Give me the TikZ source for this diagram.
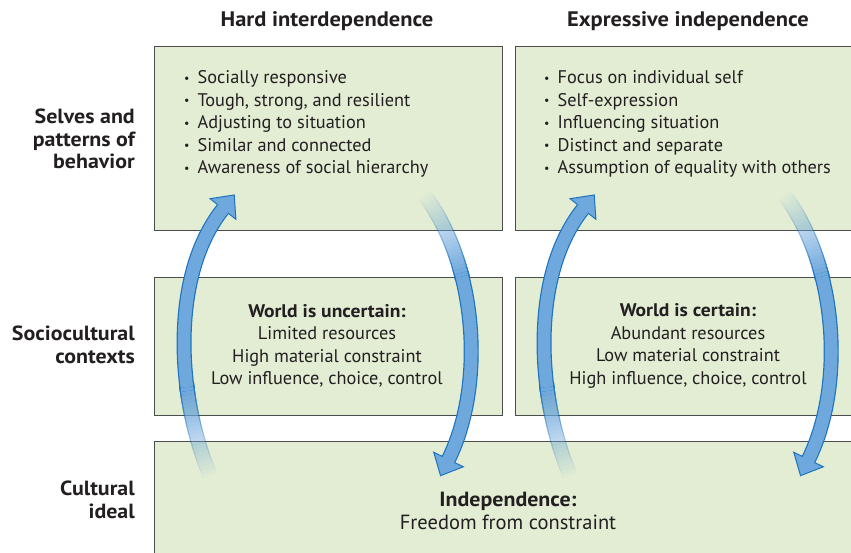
\documentclass[tikz,border=0pt]{standalone}
\usepackage{fontspec}
\setmainfont{PT Sans}[BoldFeatures={FakeStretch=1.07}]
\usetikzlibrary{calc}
\definecolor{boxfill}{RGB}{226,237,212}
\definecolor{boxedge}{RGB}{77,77,77}
\definecolor{txt}{RGB}{35,31,32}
\definecolor{arrfill}{RGB}{111,168,220}
\definecolor{arredge}{RGB}{30,115,190}
\tikzset{
  panel/.style={draw=boxedge, fill=boxfill, line width=1.4pt, inner sep=0pt, anchor=north west},
  body/.style={text=txt, font=\fontsize{18.3}{22.5}\selectfont, inner sep=0pt},
  bigbody/.style={text=txt, font=\fontsize{20.5}{22.5}\selectfont, inner sep=0pt},
  colhead/.style={text=txt, font=\bfseries\fontsize{21}{22.5}\selectfont, inner sep=0pt},
  rowlabel/.style={text=txt, font=\bfseries\fontsize{20.5}{22.5}\selectfont, align=right, inner sep=0pt, anchor=east},
}
\newcommand\bul{{\fontsize{12}{12}\selectfont\raisebox{1.3pt}{•}}\hspace{8pt}}
\newcommand\bzx[4]{(1-\t)^3*#1+3*(1-\t)^2*\t*#2+3*(1-\t)*\t^2*#3+\t^3*#4}
\newcommand\cyclearrow[8]{%
  \foreach \k in {1,...,24}{%
    \pgfmathsetmacro\ta{(\k-1)*0.33/24}%
    \pgfmathsetmacro\al{1/(25-\k)}%
    \begin{scope}[transparency group, opacity=\al]
      \draw[arredge, line width=15pt] plot[domain=\ta:0.34, samples=12, variable=\t] ({\bzx{#1}{#3}{#5}{#7}},{\bzx{#2}{#4}{#6}{#8}});
      \draw[arrfill, line width=12.6pt] plot[domain=\ta:0.34, samples=12, variable=\t] ({\bzx{#1}{#3}{#5}{#7}},{\bzx{#2}{#4}{#6}{#8}});
    \end{scope}
  }
  \draw[arredge, line width=15pt] plot[domain=0.33:1, samples=30, variable=\t] ({\bzx{#1}{#3}{#5}{#7}},{\bzx{#2}{#4}{#6}{#8}});
  \draw[arrfill, line width=12.6pt] plot[domain=0.33:1, samples=30, variable=\t] ({\bzx{#1}{#3}{#5}{#7}},{\bzx{#2}{#4}{#6}{#8}});
  \coordinate (p2) at (#5,#6);
  \coordinate (p3) at (#7,#8);
  \coordinate (tip) at ($(p3)!-18pt!(p2)$);
  \coordinate (w1) at ($(p3)!16.5pt!90:(p2)$);
  \coordinate (w2) at ($(p3)!16.5pt!-90:(p2)$);
  \filldraw[fill=arrfill, draw=arredge, line width=1pt, line join=miter] (w1) -- (tip) -- (w2) -- cycle;
  \draw[arrfill, line width=12.6pt] ($(p3)!0.8pt!(p2)$) -- ($(p3)!-3pt!(p2)$);
}
\begin{document}
\begin{tikzpicture}[x=1pt, y=-1pt]
\useasboundingbox (0,0) rectangle (851,553);
\clip (0,0) rectangle (851,553);
% panels
\node[panel, minimum width=348pt, minimum height=184pt] (tl) at (154,46) {};
\node[panel, minimum width=346pt, minimum height=184pt] (tr) at (515,46) {};
\node[panel, minimum width=348pt, minimum height=138pt] (ml) at (154,277) {};
\node[panel, minimum width=346pt, minimum height=138pt] (mr) at (515,277) {};
\node[panel, minimum width=708pt, minimum height=120pt] (bt) at (154,441) {};
% column headings
\node[colhead] (h1) at (327,21) {Hard interdependence};
\node[colhead] (h2) at (688,21) {Expressive independence};
% row labels
\node[rowlabel] (r1) at (135,139) {Selves and\\patterns of\\behavior};
\node[rowlabel] (r2) at (135,345) {Sociocultural\\contexts};
\node[rowlabel] (r3) at (135,500) {Cultural\\ideal};
% top boxes
\node[body, align=left, anchor=west] (b1) at (184,124) {\bul Socially responsive\\\bul Tough, strong, and resilient\\\bul Adjusting to situation\\\bul Similar and connected\\\bul Awareness of social hierarchy};
\node[body, align=left, anchor=west] (b2) at (544,124) {\bul Focus on individual self\\\bul Self-expression\\\bul Influencing situation\\\bul Distinct and separate\\\bul Assumption of equality with others};
% middle boxes
\node[body, align=center] (c1) at (327,346) {\textbf{World is uncertain:}\\Limited resources\\High material constraint\\Low influence, choice, control};
\node[body, align=center] (c2) at (688,346) {\textbf{World is certain:}\\Abundant resources\\Low material constraint\\High influence, choice, control};
% bottom box
\node[bigbody, align=center] (d1) at (508,511) {\textbf{Independence:}\\Freedom from constraint};
% arrows
\cyclearrow{210}{475}{176.7}{396.8}{169.9}{275.4}{223}{209}
\cyclearrow{425}{196}{476.3}{263.7}{486.1}{383.3}{448.5}{459.5}
\begin{scope}[xshift=360pt]
\cyclearrow{210}{475}{176.7}{396.8}{169.9}{275.4}{223}{209}
\cyclearrow{425}{196}{476.3}{263.7}{486.1}{383.3}{448.5}{459.5}
\end{scope}
\end{tikzpicture}
\end{document}
